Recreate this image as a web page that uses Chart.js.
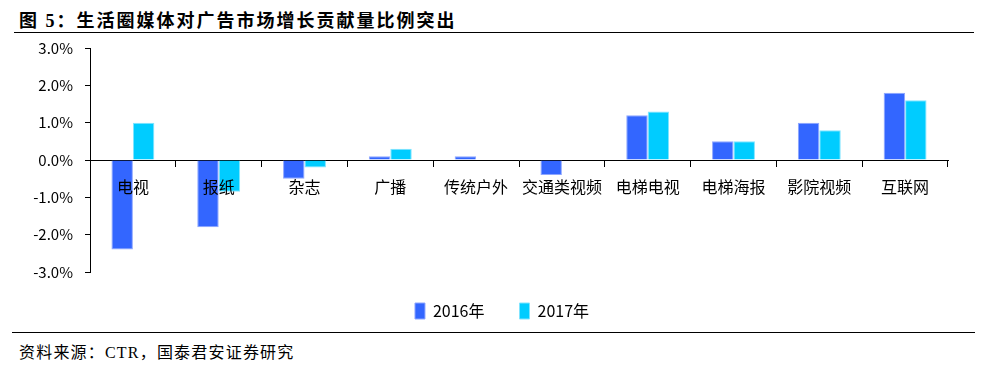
<!DOCTYPE html>
<html>
<head>
<meta charset="utf-8">
<script src="https://cdn.jsdelivr.net/npm/chart.js@4"></script>
<style>
	body { margin: 0; background: #fff; width: 986px; height: 369px; overflow: hidden; position: relative; }
	#title { position: absolute; left: 19px; top: 6px; font-family: "Liberation Serif", "Noto Sans CJK SC", serif; font-weight: bold; font-size: 18px; letter-spacing: 2px; color: #000; white-space: nowrap; }
	#topLine { position: absolute; left: 14px; top: 32px; width: 960px; height: 0; border-top: 1.5px solid #000; }
	#bottomLine { position: absolute; left: 12px; top: 332px; width: 963px; height: 0; border-top: 1.5px solid #000; }
	#source { position: absolute; left: 19px; top: 339px; font-family: "Liberation Serif", "Noto Sans CJK SC", serif; font-size: 16px; letter-spacing: 1.2px; color: #000; white-space: nowrap; }
	#chartBox { position: absolute; left: 0; top: 27px; width: 986px; height: 308px; }
</style>
</head>
<body>
<div id="title">图 5：生活圈媒体对广告市场增长贡献量比例突出</div>
<div id="chartBox"><canvas id="contributionChart"></canvas></div>
<div id="topLine"></div>
<div id="bottomLine"></div>
<div id="source">资料来源：CTR，国泰君安证券研究</div>

<script>
// 카테고리 / 시리즈 데이터 (단위: %)
var categories = ["电视", "报纸", "杂志", "广播", "传统户外", "交通类视频", "电梯电视", "电梯海报", "影院视频", "互联网"];
var seriesNames = ["2016年", "2017年"];
var values2016 = [-2.4, -1.8, -0.5, 0.1, 0.1, -0.4, 1.2, 0.5, 1.0, 1.8];
var values2017 = [1.0, -0.85, -0.2, 0.3, 0, 0, 1.3, 0.5, 0.8, 1.6];
var yTicks = [-3, -2, -1, 0, 1, 2, 3];

var chartFont = "'Noto Sans CJK SC', 'Noto Sans', sans-serif";

// 범례 위치 보정 (원본은 가운데보다 오른쪽, 조금 위)
var legendShift = {
	id : 'legendShift',
	afterLayout : function(chart) {
		chart.legend.left += 28;
		chart.legend.right += 28;
		chart.legend.top -= 4;
		chart.legend.bottom -= 4;
	}
};

drawChart();

function drawChart() {
	var ctx = document.getElementById("contributionChart");

	var data = {
		labels : categories,
		datasets : [ {
			label : seriesNames[0],
			data : values2016,
			backgroundColor : "#3366FF",
			borderColor : "#8EA6FF",
			borderWidth : 1
		}, {
			label : seriesNames[1],
			data : values2017,
			backgroundColor : "#00CCFF",
			borderColor : "#80E4FF",
			borderWidth : 1
		} ]
	};

	var options = {
		responsive : true,
		maintainAspectRatio : false,
		animation : false,
		layout : {
			padding : { top : 2, right : 38, bottom : 2, left : 0 }
		},
		datasets : {
			bar : {
				categoryPercentage : 0.5,
				barPercentage : 1.0
			}
		},
		plugins : {
			tooltip : { enabled : false },
			legend : {
				position : 'bottom',
				labels : {
					boxWidth : 10,
					boxHeight : 16,
					padding : 35,
					color : "#000",
					font : { family : chartFont, size : 16 }
				}
			}
		},
		scales : {
			x : {
				position : { y : 0 },
				grid : {
					offset : true,
					drawOnChartArea : false,
					tickLength : 6,
					color : "#000"
				},
				border : { color : "#000", width : 1 },
				ticks : {
					z : 1,
					padding : 11,
					color : "#000",
					maxRotation : 0,
					autoSkip : false,
					font : { family : chartFont, size : 16 }
				}
			},
			y : {
				min : -3,
				max : 3,
				afterFit : function(scale) {
					scale.width = 90;
				},
				afterBuildTicks : function(scale) {
					scale.ticks = yTicks.map(function(v) { return { value : v }; });
				},
				grid : {
					drawOnChartArea : false,
					tickLength : 5,
					color : "#000"
				},
				border : { color : "#000", width : 1 },
				ticks : {
					padding : 12,
					color : "#000",
					font : { family : chartFont, size : 15 },
					callback : function(value) {
						return value.toFixed(1) + "%";
					}
				}
			}
		}
	};

	new Chart(ctx, {
		type : 'bar',
		data : data,
		options : options,
		plugins : [ legendShift ]
	});
}
</script>
</body>
</html>
